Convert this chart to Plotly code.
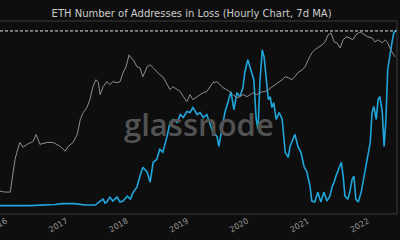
import datetime as dt
import plotly.graph_objects as go

# ---- data (decimal years) ----
price_t = [2015.90, 2015.98, 2016.07, 2016.10, 2016.15, 2016.18, 2016.23, 2016.28, 2016.35, 2016.45,
           2016.50, 2016.56, 2016.68, 2016.78, 2016.90, 2016.98, 2017.03, 2017.11, 2017.18, 2017.23,
           2017.28, 2017.34, 2017.39, 2017.44, 2017.49, 2017.53, 2017.56, 2017.61, 2017.67, 2017.72,
           2017.77, 2017.84, 2017.89, 2017.94, 2017.99, 2018.04, 2018.07, 2018.11, 2018.17, 2018.22,
           2018.27, 2018.34, 2018.39, 2018.44, 2018.50, 2018.55, 2018.60, 2018.67, 2018.72, 2018.77,
           2018.84, 2018.89, 2018.94, 2019.00, 2019.05, 2019.10, 2019.17, 2019.22, 2019.27, 2019.33,
           2019.38, 2019.43, 2019.50, 2019.55, 2019.60, 2019.66, 2019.71, 2019.76, 2019.83, 2019.88,
           2019.93, 2020.00, 2020.05, 2020.10, 2020.16, 2020.21, 2020.26, 2020.30, 2020.35, 2020.41,
           2020.46, 2020.51, 2020.58, 2020.63, 2020.68, 2020.74, 2020.79, 2020.84, 2020.91, 2020.96,
           2021.01, 2021.07, 2021.12, 2021.17, 2021.24, 2021.29, 2021.34, 2021.39, 2021.44, 2021.49,
           2021.54, 2021.59, 2021.64, 2021.70, 2021.75, 2021.80, 2021.87, 2021.90, 2021.95, 2022.00,
           2022.07, 2022.12, 2022.17, 2022.24, 2022.29, 2022.33, 2022.38, 2022.45]
price_usd = [1.0, 0.95, 0.95, 1.89, 5.5, 8.0, 13.5, 10.4, 12.2, 14.3,
             20.7, 12.2, 13.5, 13.5, 10.9, 8.4, 10.9, 13.5, 20.7, 46,
             67, 87, 133, 266, 386, 329, 174, 266, 347, 296,
             347, 329, 347, 560, 771, 1459, 1244, 1117, 771, 731,
             453, 771, 857, 731, 591, 504, 453, 296, 227, 266,
             227, 204, 156, 120, 174, 133, 156, 174, 193, 204,
             252, 329, 347, 296, 252, 227, 204, 174, 148, 156,
             174, 156, 174, 193, 174, 193, 204, 204, 227, 266,
             296, 329, 386, 453, 429, 386, 453, 560, 657, 771,
             1117, 1622, 1902, 2116, 2484, 2911, 4224, 4697, 2911, 2762,
             2116, 3238, 3801, 3605, 3238, 4224, 4955, 4697, 4224, 3801,
             3605, 2911, 3238, 2762, 3238, 2762, 1902, 1312]

loss_t = [2015.90, 2016.40, 2016.81, 2016.93, 2017.14, 2017.31, 2017.48, 2017.53, 2017.56, 2017.61,
          2017.64, 2017.67, 2017.72, 2017.77, 2017.84, 2017.89, 2017.94, 2018.01, 2018.06, 2018.11,
          2018.17, 2018.22, 2018.27, 2018.34, 2018.39, 2018.44, 2018.50, 2018.55, 2018.60, 2018.67,
          2018.72, 2018.77, 2018.84, 2018.89, 2018.94, 2019.00, 2019.05, 2019.10, 2019.17, 2019.22,
          2019.27, 2019.33, 2019.38, 2019.43, 2019.50, 2019.53, 2019.58, 2019.63, 2019.68, 2019.73,
          2019.78, 2019.83, 2019.88, 2019.93, 2019.96, 2020.01, 2020.06, 2020.11, 2020.15, 2020.18,
          2020.21, 2020.25, 2020.28, 2020.31, 2020.35, 2020.38, 2020.41, 2020.44, 2020.48, 2020.53,
          2020.58, 2020.63, 2020.68, 2020.71, 2020.74, 2020.79, 2020.84, 2020.89, 2020.94, 2020.99,
          2021.04, 2021.07, 2021.12, 2021.17, 2021.22, 2021.27, 2021.32, 2021.37, 2021.41, 2021.44,
          2021.47, 2021.52, 2021.56, 2021.59, 2021.62, 2021.67, 2021.70, 2021.74, 2021.77, 2021.80,
          2021.84, 2021.89, 2021.94, 2021.99, 2022.04, 2022.07, 2022.10, 2022.14, 2022.17, 2022.20,
          2022.24, 2022.27, 2022.30, 2022.33, 2022.37, 2022.40, 2022.43, 2022.47]
loss_m = [2.1, 2.1, 2.4, 2.6, 2.6, 2.25, 2.25, 3.0, 3.25, 3.75,
          2.75, 3.0, 4.25, 3.25, 4.25, 3.0, 3.25, 4.5, 3.75, 5.5,
          6.75, 9.5, 11.75, 10.5, 8.0, 13.0, 13.75, 16.25, 15.5, 19.5,
          23.0, 23.75, 23.0, 25.0, 24.25, 25.75, 25.5, 26.75, 25.0, 25.5,
          24.25, 25.0, 23.0, 20.5, 19.5, 17.0, 21.25, 25.5, 28.0, 30.75,
          26.25, 30.5, 29.5, 31.75, 35.5, 38.75, 36.25, 33.75, 23.75, 21.25,
          33.0, 41.25, 39.5, 34.5, 28.75, 29.5, 26.75, 28.0, 23.75, 25.5,
          23.75, 15.5, 14.25, 17.0, 18.25, 20.0, 17.0, 15.5, 12.0, 10.5,
          7.0, 3.25, 3.0, 5.5, 3.0, 5.5, 3.25, 4.5, 7.0, 8.0,
          9.5, 11.25, 13.0, 9.5, 4.5, 3.75, 5.5, 8.75, 9.5, 3.75,
          3.0, 5.5, 9.5, 13.0, 18.0, 25.5, 27.0, 23.75, 28.75, 29.5,
          25.5, 17.0, 23.75, 36.25, 40.5, 43.0, 45.5, 46.25]

current_level = 46.0
x_range_years = [2015.9005, 2022.484]
year_ticks = [2016, 2017, 2018, 2019, 2020, 2021, 2022]


def to_date(y):
    yr = int(y)
    start = dt.datetime(yr, 1, 1)
    days = (dt.datetime(yr + 1, 1, 1) - start).days
    return start + dt.timedelta(days=(y - yr) * days)


px_dates = [to_date(v) for v in price_t]
ls_dates = [to_date(v) for v in loss_t]

fig = go.Figure()
fig.add_trace(go.Scatter(x=px_dates, y=price_usd, yaxis="y2", mode="lines",
                         line=dict(color="#8e8e8e", width=1), name="Price"))
fig.add_trace(go.Scatter(x=ls_dates, y=loss_m, mode="lines",
                         line=dict(color="#1fa6dc", width=1.6), name="Addresses in Loss"))

fig.add_shape(type="line", xref="paper", x0=0, x1=1, yref="y", y0=current_level, y1=current_level,
              line=dict(color="#e8e8e8", width=1, dash="3px,2px"))
# frame
for s in [dict(x0=0, x1=1, y0=1, y1=1), dict(x0=0, x1=1, y0=0, y1=0), dict(x0=1, x1=1, y0=0, y1=1)]:
    fig.add_shape(type="line", xref="paper", yref="paper", line=dict(color="#3a3a3a", width=1), **s)

fig.add_annotation(text="glassnode", xref="paper", yref="paper", x=0.501, y=0.465,
                   showarrow=False,
                   font=dict(family="Open Sans", size=31, color="#525252", weight=600))

fig.update_layout(
    width=400, height=240,
    margin=dict(l=0, r=3, t=21, b=26, autoexpand=False),
    paper_bgcolor="#0e0e0e", plot_bgcolor="#0e0e0e",
    showlegend=False,
    title=dict(text="ETH Number of Addresses in Loss (Hourly Chart, 7d MA)",
               x=0.479, xanchor="center", y=1 - 13 / 240, yanchor="middle",
               font=dict(family="DejaVu Sans", size=10, color="#cccccc")),
    xaxis=dict(type="date", range=[to_date(x_range_years[0]), to_date(x_range_years[1])],
               tickvals=[to_date(y) for y in year_ticks], ticktext=[str(y) for y in year_ticks],
               tickangle=-30, ticklabeloverflow="allow", automargin=False,
               tickfont=dict(family="DejaVu Sans", size=8, color="#9a9a9a"),
               showgrid=False, zeroline=False, showline=False, ticks=""),
    yaxis=dict(range=[0, 48.5], visible=False, showgrid=False, automargin=False),
    yaxis2=dict(type="log", range=[-0.531, 3.949], overlaying="y", visible=False,
                showgrid=False, automargin=False),
)

fig.write_html("out.html")
